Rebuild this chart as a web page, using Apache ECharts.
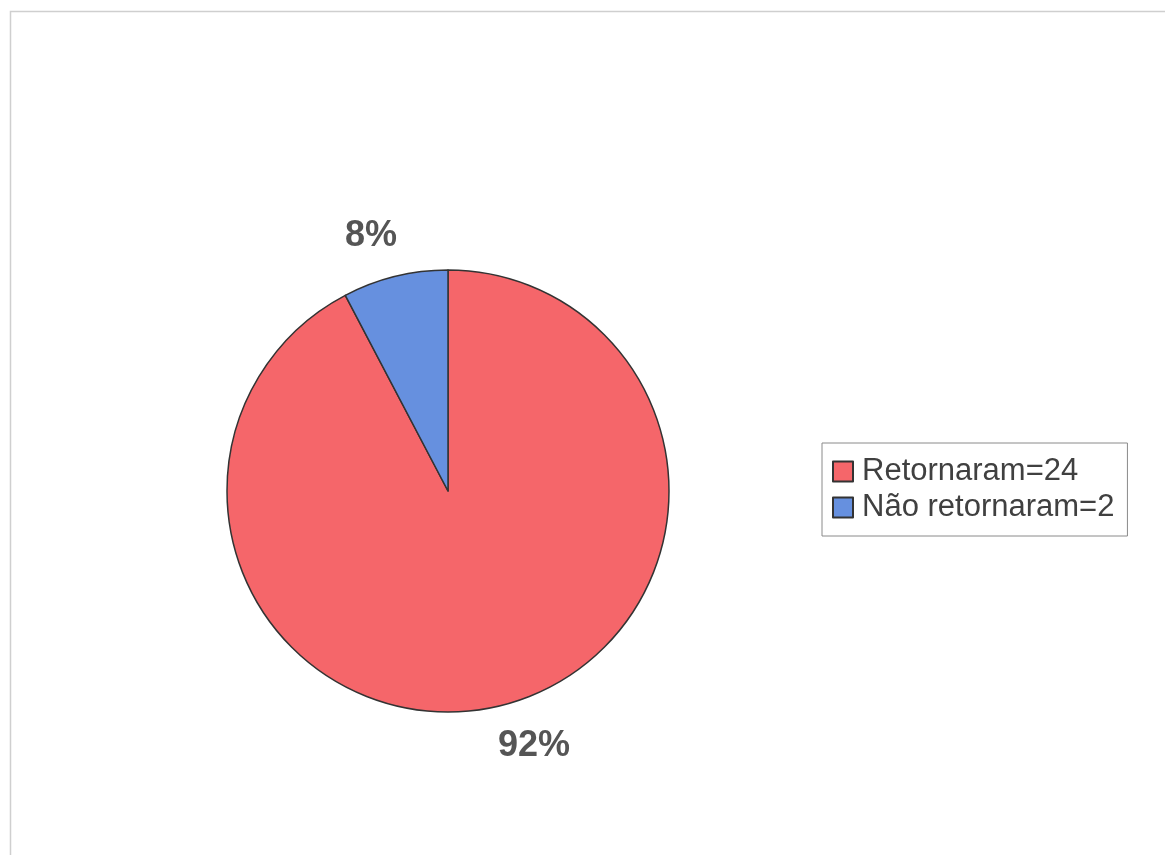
<!DOCTYPE html>
<html>
<head>
<meta charset="utf-8">
<script src="https://cdn.jsdelivr.net/npm/echarts@6/dist/echarts.min.js"></script>
<style>
html,body{margin:0;padding:0;background:#fff;}
#chart{width:1165px;height:855px;}
</style>
</head>
<body>
<div id="chart"></div>
<script>
const categories = ['Retornaram=24', 'Não retornaram=2'];
const values = [24, 2];
const colors = ['#F5666A', '#6690DF'];

const chart = echarts.init(document.getElementById('chart'));
const data = categories.map((c, i) => ({ name: c, value: values[i], itemStyle: { color: colors[i] } }));

chart.setOption({
  backgroundColor: '#ffffff',
  animation: false,
  graphic: [{
    type: 'rect',
    shape: { x: 10.5, y: 11.5, width: 1200, height: 900 },
    style: { fill: 'none', stroke: '#cfcfcf', lineWidth: 1.5 },
    silent: true
  }],
  legend: {
    orient: 'vertical',
    left: 822,
    top: 443,
    padding: [13, 13, 13, 10],
    itemGap: 5,
    itemWidth: 20,
    itemHeight: 20,
    icon: 'rect',
    borderColor: '#8a8a8a',
    borderWidth: 1,
    backgroundColor: '#fff',
    textStyle: { fontFamily: 'Liberation Sans', fontSize: 31, color: '#404040', lineHeight: 31, padding: [0, 0, 0, 4] },
    data: categories
  },
  series: [{
    type: 'pie',
    center: [448, 491],
    radius: 221,
    startAngle: 90,
    clockwise: true,
    avoidLabelOverlap: false,
    data: data,
    itemStyle: { borderColor: '#333', borderWidth: 1.5 },
    label: {
      show: true,
      position: 'outside',
      distanceToLabelLine: 0,
      fontFamily: 'Liberation Sans',
      fontSize: 36,
      fontWeight: 'bold',
      color: '#555',
      formatter: p => Math.round(p.percent) + '%'
    },
    labelLine: { show: false, length: 42, length2: 0 },
    labelLayout: function (p) {
      return { dx: p.align === 'right' ? 12 : -13 };
    },
    emphasis: { disabled: true }
  }]
});
</script>
</body>
</html>
